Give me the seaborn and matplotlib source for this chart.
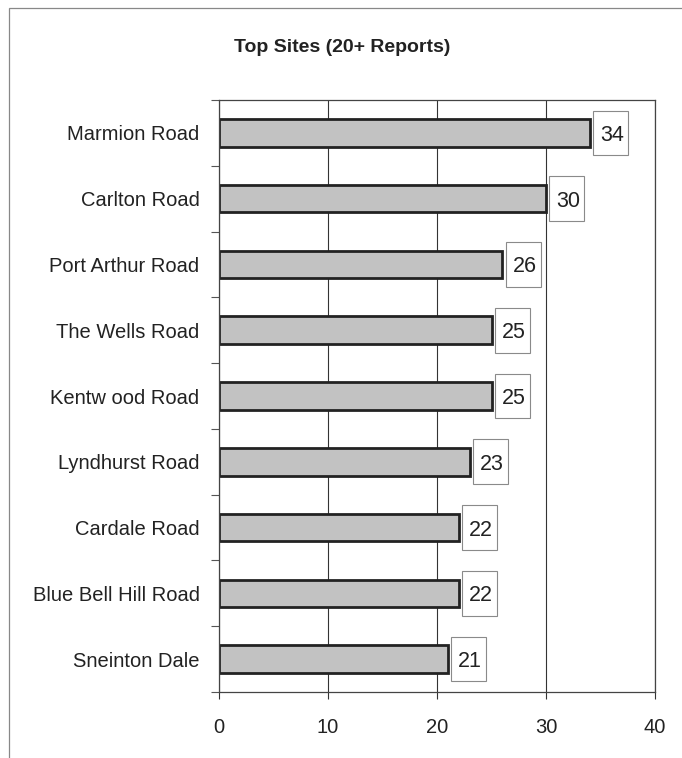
import matplotlib
matplotlib.use("Agg")
import matplotlib.pyplot as plt
import seaborn as sns
import pandas as pd
from matplotlib.patches import Rectangle

sites = ["Marmion Road", "Carlton Road", "Port Arthur Road", "The Wells Road",
         "Kentw ood Road", "Lyndhurst Road", "Cardale Road", "Blue Bell Hill Road",
         "Sneinton Dale"]
reports = [34, 30, 26, 25, 25, 23, 22, 22, 21]
x_ticks = [0, 10, 20, 30, 40]
title = "Top Sites (20+ Reports)"

sns.set_theme(style="white")
plt.rcParams["font.family"] = ["Liberation Sans", "DejaVu Sans"]

df = pd.DataFrame({"site": sites, "reports": reports})

fig = plt.figure(figsize=(6.82, 7.58), dpi=100)
ax = fig.add_axes([219/682, 1-692/758, (655-219)/682, (692-100)/758])

sns.barplot(data=df, x="reports", y="site", orient="h", ax=ax,
            color="#c2c2c2", edgecolor="#222222", linewidth=2.0, width=0.42,
            saturation=1)

ax.set_xlim(0, 40)
ax.set_ylim(len(sites) - 0.5, -0.5)
ax.set_xticks(x_ticks)
ax.set_xticklabels([str(t) for t in x_ticks], fontsize=14.5, color="#222222")
ax.set_xlabel("")
ax.set_ylabel("")
ax.tick_params(axis="y", length=0, pad=14, labelsize=14.5, labelcolor="#222222")
ax.tick_params(axis="x", length=5, width=0.8, color="#333333", direction="out",
               bottom=True, pad=14)
ax.set_yticks([i + 0.5 for i in range(-1, len(sites))], minor=True)
ax.tick_params(axis="y", which="minor", length=6, width=0.8, color="#555555",
               left=True, direction="out")
ax.grid(axis="x", color="#333333", linewidth=0.8)
ax.set_axisbelow(True)
for s in ax.spines.values():
    s.set_visible(True)
    s.set_color("#444444")
    s.set_linewidth(0.9)

# value label boxes
gap = 0.3
box_w = 3.2
box_h = 0.68
for i, v in enumerate(reports):
    ax.add_patch(Rectangle((v + gap, i - box_h / 2), box_w, box_h,
                           fc="white", ec="#8a8a8a", lw=0.8, zorder=3))
    ax.text(v + gap + box_w / 2 + 0.15, i, str(v), ha="center", va="center_baseline",
            fontsize=15.5, color="#222222", zorder=4)

fig.text(342/682, 1-48/758, title, ha="center", va="center",
         fontsize=14, fontweight="bold", color="#222222")

fig.add_artist(Rectangle((9/682, -0.02), 1.1, 1 - 8/758 + 0.02,
                         transform=fig.transFigure, fill=False,
                         ec="#888888", lw=0.9))

fig.savefig("out.png", dpi=100, facecolor="white")
